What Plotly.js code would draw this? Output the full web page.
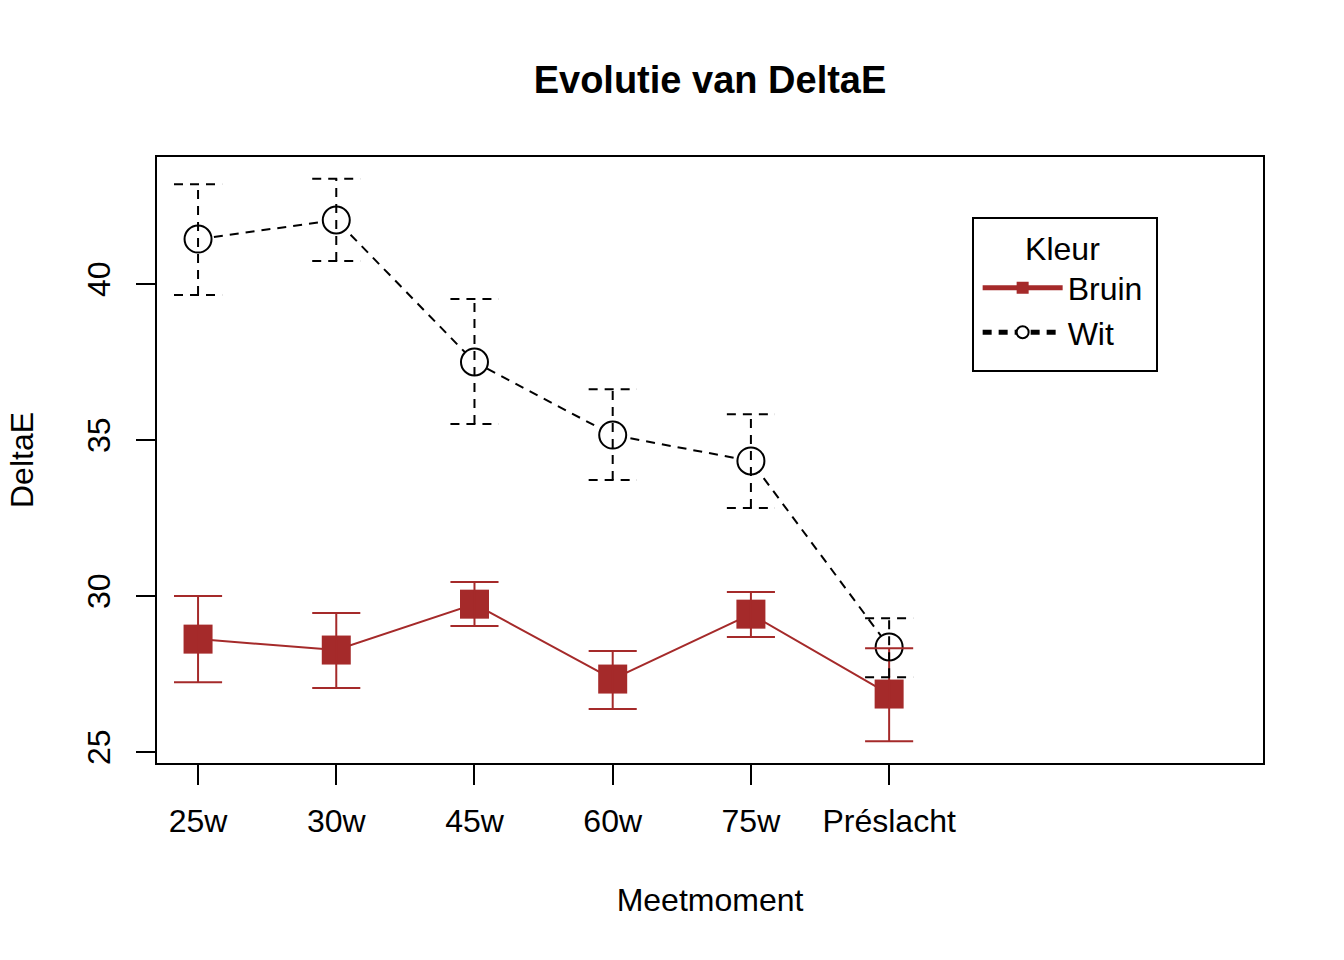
<!DOCTYPE html>
<html>
<head>
<meta charset="utf-8">
<script src="https://cdn.plot.ly/plotly-3.0.1.min.js"></script>
<style>body{margin:0;background:#fff}</style>
</head>
<body>
<div id="chart" style="width:1344px;height:960px"></div>
<script>
// meetmomenten
var momenten = ["25w", "30w", "45w", "60w", "75w", "Préslacht"];
var xpos = [1, 2, 3, 4, 5, 6];

// gemiddelde DeltaE per kleur, met foutbalken (boven / onder)
var bruinMean = [28.62, 28.27, 29.74, 27.34, 29.42, 26.86];
var bruinHi = [30.00, 29.46, 30.45, 28.24, 30.13, 28.33];
var bruinLo = [27.24, 27.05, 29.04, 26.38, 28.69, 25.35];

var witMean = [41.44, 42.05, 37.50, 35.16, 34.33, 28.37];
var witHi = [43.20, 43.37, 39.52, 36.63, 35.83, 29.29];
var witLo = [39.65, 40.74, 35.51, 33.72, 32.82, 27.40];

var bruinKleur = "#A52A2A";
var capHalf = 0.174; // halve breedte van de kapjes (x-eenheden)

// foutbalken als losse lijnstukken, zodat ze gestippeld kunnen
function errTrace(lo, hi, color, dash) {
    var xs = [], ys = [];
    for (var i = 0; i < xpos.length; i++) {
        xs.push(xpos[i], xpos[i], null);
        ys.push(lo[i], hi[i], null);
        xs.push(xpos[i] - capHalf, xpos[i] + capHalf, null);
        ys.push(hi[i], hi[i], null);
        xs.push(xpos[i] - capHalf, xpos[i] + capHalf, null);
        ys.push(lo[i], lo[i], null);
    }
    return {
        x: xs, y: ys, mode: "lines", showlegend: false, hoverinfo: "skip",
        line: {color: color, width: 2, dash: dash}
    };
}

var bruin = {
    x: xpos, y: bruinMean, name: "Bruin", mode: "lines+markers",
    line: {color: bruinKleur, width: 2},
    marker: {symbol: "square", size: 29, color: bruinKleur}
};
var wit = {
    x: xpos, y: witMean, name: "Wit", mode: "lines+markers",
    line: {color: "black", width: 2, dash: "9px,7px"},
    marker: {symbol: "circle", size: 27, color: "white", line: {color: "black", width: 2}}
};

var data = [bruin, wit, errTrace(bruinLo, bruinHi, bruinKleur, "solid"), errTrace(witLo, witHi, "black", "9px,7px")];

var layout = {
    width: 1344, height: 960,
    margin: {l: 157, r: 81, t: 157, b: 197},
    paper_bgcolor: "white", plot_bgcolor: "white",
    font: {family: "Liberation Sans, Arial, sans-serif", size: 32, color: "black"},
    title: {
        text: "<b>Evolutie van DeltaE</b>", font: {size: 38},
        x: 0.5, xref: "paper", y: 1 - 80 / 960, yref: "container", yanchor: "middle"
    },
    xaxis: {
        range: [0.703, 8.705], tickvals: xpos, ticktext: momenten,
        showgrid: false, zeroline: false,
        showline: true, mirror: true, linecolor: "black", linewidth: 2,
        ticks: "outside", ticklen: 20, tickwidth: 2, tickcolor: "black",
        ticklabelstandoff: 9,
        tickfont: {size: 32},
        title: {text: "Meetmoment", font: {size: 32}, standoff: 50}
    },
    yaxis: {
        range: [24.65, 44.07], tickvals: [25, 30, 35, 40],
        showgrid: false, zeroline: false,
        showline: true, mirror: true, linecolor: "black", linewidth: 2,
        ticks: "outside", ticklen: 19, tickwidth: 2, tickcolor: "black",
        tickangle: -90, ticklabelstandoff: 13,
        tickfont: {size: 32},
        title: {text: "DeltaE", font: {size: 32}, standoff: 38}
    },
    legend: {
        x: 0.742, y: 0.898, xanchor: "left", yanchor: "top",
        bgcolor: "rgba(0,0,0,0)", borderwidth: 0,
        font: {size: 32},
        itemsizing: "constant", itemwidth: 80,
        title: {text: "Kleur", side: "top center", font: {size: 32}}
    },
    // kader rond de legende
    shapes: [{
        type: "rect", xref: "paper", yref: "paper",
        x0: (973 - 157) / 1106, x1: (1157 - 157) / 1106,
        y0: (763 - 371) / 606, y1: (763 - 218) / 606,
        line: {color: "black", width: 2}
    }],
    showlegend: true
};

Plotly.newPlot("chart", data, layout, {displayModeBar: false});
</script>
</body>
</html>
